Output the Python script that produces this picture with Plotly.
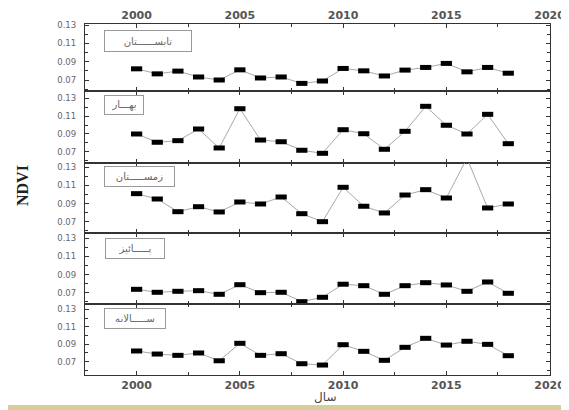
import plotly.graph_objects as go

years = [2000, 2001, 2002, 2003, 2004, 2005, 2006, 2007, 2008, 2009,
         2010, 2011, 2012, 2013, 2014, 2015, 2016, 2017, 2018]
summer = [0.0822, 0.0767, 0.0797, 0.0733, 0.0700, 0.0811, 0.0722, 0.0733, 0.0663, 0.0689,
          0.0826, 0.0800, 0.0744, 0.0808, 0.0837, 0.0881, 0.0789, 0.0837, 0.0774]
spring = [0.0899, 0.0806, 0.0824, 0.0955, 0.0742, 0.1183, 0.0831, 0.0812, 0.0716, 0.0682,
          0.0947, 0.0902, 0.0727, 0.0929, 0.1210, 0.0997, 0.0899, 0.1120, 0.0790]
winter = [0.1009, 0.0950, 0.0810, 0.0865, 0.0807, 0.0917, 0.0895, 0.0972, 0.0788, 0.0700,
          0.1079, 0.0870, 0.0796, 0.0994, 0.1053, 0.0961, 0.1400, 0.0851, 0.0895]
autumn = [0.0737, 0.0704, 0.0715, 0.0722, 0.0682, 0.0788, 0.0700, 0.0704, 0.0601, 0.0649,
          0.0793, 0.0777, 0.0682, 0.0777, 0.0810, 0.0785, 0.0715, 0.0818, 0.0693]
annual = [0.0823, 0.0788, 0.0773, 0.0800, 0.0711, 0.0911, 0.0773, 0.0792, 0.0677, 0.0662,
          0.0895, 0.0819, 0.0716, 0.0865, 0.0968, 0.0891, 0.0934, 0.0899, 0.0769]

series = [summer, spring, winter, autumn, annual]
labels = ["تابســــــتان", "بهـــار", "زمســـــتان", "پـــــائیز", "ســـــالانه"]
x_ticks = [2000, 2005, 2010, 2015, 2020]
x_minor = [2002.5, 2007.5, 2012.5, 2017.5]
y_ticks = [0.07, 0.09, 0.11, 0.13]
y_tick_text = ["0.07", "0.09", "0.11", "0.13"]
y_minor = [0.06, 0.08, 0.10, 0.12]
x_title = "سال"
y_title = "NDVI"

# layout geometry (pixels). The page body adds an 8px margin, so the
# figure is drawn 8px smaller and all reference positions are shifted.
OFF = 8
W, H = 569 - OFF, 410 - OFF
L, T = 85 - OFF, 24 - OFF
R = W - (550 - OFF)
B = H - (375 - OFF)
PW = 465
PH = 351
bounds = [24, 91, 163, 233, 304, 375]
ranges = [[0.058, 0.1311], [0.0573, 0.1382], [0.0575, 0.1347], [0.0575, 0.1358], [0.0548, 0.1361]]
box_px = [(104, 30, 86, 20), (104, 95, 38, 18), (104, 166, 69, 19), (105, 238, 58, 19), (104, 308, 60, 19)]


def fy(py):
    return (375 - py) / PH


def fx(px):
    return (px - 85) / PW


fig = go.Figure()
axis_color = "#333333"
for i, vals in enumerate(series):
    n = i + 1
    xa = "x" if n == 1 else f"x{n}"
    ya = "y" if n == 1 else f"y{n}"
    fig.add_trace(go.Scatter(
        x=years, y=vals, xaxis=xa, yaxis=ya, mode="lines+markers",
        line=dict(color="#a8a8a8", width=1),
        marker=dict(symbol="line-ew", size=8, color="black",
                    line=dict(color="black", width=5)),
        showlegend=False,
    ))
    xkey = "xaxis" if n == 1 else f"xaxis{n}"
    ykey = "yaxis" if n == 1 else f"yaxis{n}"
    show_x = n in (1, 5)
    fig.update_layout({
        xkey: dict(
            domain=[0, 1], range=[1997.5, 2020.02], anchor=ya,
            side="top" if n == 1 else "bottom",
            showticklabels=show_x, tickvals=x_ticks,
            ticktext=[str(v) for v in x_ticks],
            ticks="inside", ticklen=4, tickwidth=1, tickcolor=axis_color,
            minor=dict(tickvals=x_minor, ticks="inside", ticklen=3, tickcolor=axis_color),
            showline=True, linecolor=axis_color, linewidth=1.2, mirror="ticks",
            showgrid=False, zeroline=False, automargin=False,
            tickfont=dict(family="DejaVu Sans", size=11, color="#555555", weight="bold"),
            ticklabelstandoff=0,
        ),
        ykey: dict(
            domain=[fy(bounds[i + 1]), fy(bounds[i])], range=ranges[i], anchor=xa,
            tickvals=y_ticks, ticktext=y_tick_text,
            ticks="inside", ticklen=4, tickwidth=1, tickcolor=axis_color,
            minor=dict(tickvals=y_minor, ticks="inside", ticklen=3, tickcolor=axis_color),
            showline=True, linecolor=axis_color, linewidth=1.2, mirror="ticks",
            showgrid=False, zeroline=False, automargin=False,
            tickfont=dict(family="DejaVu Sans", size=8.5, color="#666666"),
            ticklabelstandoff=6,
        ),
    })
    bx, by, bw, bh = box_px[i]
    fig.add_annotation(
        xref="paper", yref="paper", x=fx(bx), y=fy(by), xanchor="left", yanchor="top",
        text=labels[i], showarrow=False, width=bw, height=bh, borderpad=0,
        bordercolor="#999999", borderwidth=1, align="center", valign="middle",
        font=dict(family="DejaVu Sans", size=10, color="#666666"),
    )

fig.add_annotation(
    xref="paper", yref="paper", x=fx(22), y=fy(185), text=y_title, textangle=-90,
    showarrow=False, xanchor="center", yanchor="middle",
    font=dict(family="Liberation Serif", size=16, color="#222222", weight="bold"),
)
fig.add_annotation(
    xref="paper", yref="paper", x=fx(325), y=fy(397), text=x_title,
    showarrow=False, xanchor="center", yanchor="middle",
    font=dict(family="DejaVu Sans", size=12, color="#444444"),
)
fig.add_shape(type="rect", xref="paper", yref="paper", x0=fx(0), x1=fx(569), y0=fy(410), y1=fy(405),
              fillcolor="#d6cd9a", line=dict(width=0), layer="above")

fig.update_layout(
    width=W, height=H, margin=dict(l=L, r=R, t=T, b=B),
    paper_bgcolor="white", plot_bgcolor="white",
)
fig.write_html("out.html")
